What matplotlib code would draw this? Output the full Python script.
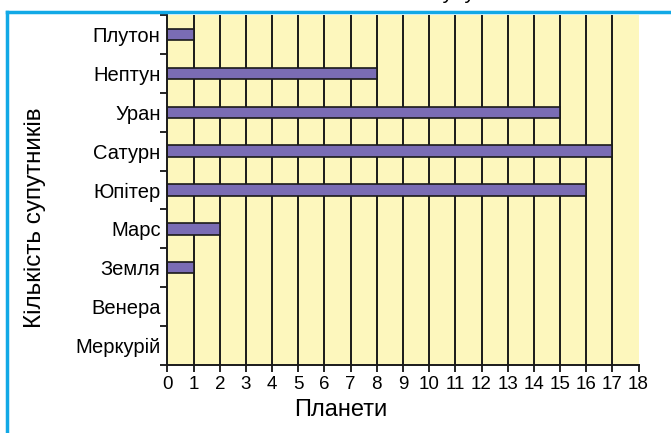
import matplotlib
matplotlib.use("Agg")
import matplotlib.pyplot as plt
from matplotlib.lines import Line2D

plt.rcParams["font.family"] = ["Liberation Sans", "DejaVu Sans"]

# planets from the inner one outwards, drawn bottom to top
planets = ["Меркурій", "Венера", "Земля", "Марс", "Юпітер",
           "Сатурн", "Уран", "Нептун", "Плутон"]
moons = [0, 0, 1, 2, 16, 17, 15, 8, 1]
x_ticks = list(range(0, 19))

BAR = "#7a6cb4"
BG = "#fdf7bd"
FRAME = "#12a9e6"

fig = plt.figure(figsize=(6.71, 4.33), dpi=100)
ax = fig.add_axes([0.2496, 0.157, 0.702, 0.8083])
ax.set_facecolor(BG)

# vertical grid lines at every whole number
for x in x_ticks[1:-1]:
    ax.axvline(x, color="#1a1a1a", lw=1.4, zorder=1)

pos = list(range(len(planets)))
ax.barh(pos, moons, height=0.29, color=BAR, edgecolor="#1a1a1a",
        linewidth=1.2, zorder=2)

ax.set_xlim(0, 18)
ax.set_ylim(-0.5, len(planets) - 0.5)
ax.set_xticks(x_ticks)
ax.set_xticklabels([str(v) for v in x_ticks], fontsize=13.5)

# planet names sit between the boundary ticks
ax.set_yticks([p - 0.5 for p in pos] + [len(planets) - 0.5])
ax.set_yticklabels([])
ax.set_yticks(pos, minor=True)
ax.set_yticklabels(planets, minor=True, fontsize=14.5)
ax.tick_params(axis="y", which="minor", length=0, pad=5)
ax.tick_params(axis="y", which="major", length=5, width=1.2)
ax.tick_params(axis="x", length=5, width=1.2, pad=3)

for s in ("top", "right"):
    ax.spines[s].set_visible(False)
for s in ("left", "bottom"):
    ax.spines[s].set_linewidth(1.4)
    ax.spines[s].set_color("#1a1a1a")

ax.set_xlabel("Планети", fontsize=17)
ax.xaxis.set_label_coords((341 - 167.5) / 471, -(410 - 365) / 350, transform=ax.transAxes)
ax.xaxis.label.set_va("center")
ax.set_ylabel("Кількість супутників", fontsize=17.5)
ax.yaxis.set_label_coords(-(167.5 - 35) / 471, 0.5 - (218 - 190) / 350, transform=ax.transAxes)
ax.yaxis.label.set_va("center")

# cyan frame around the panel
fig.add_artist(Line2D([7 / 671, 1], [1 - 12 / 433, 1 - 12 / 433],
                      transform=fig.transFigure, color=FRAME, lw=2.5))
fig.add_artist(Line2D([7 / 671, 7 / 671], [0, 1 - 12 / 433],
                      transform=fig.transFigure, color=FRAME, lw=2.5))

# heading above the panel
fig.text(0.51, 1.0 + 1 / 433, "Кількість супутників планет",
         fontsize=15, ha="left", va="baseline")

fig.savefig("out.png", dpi=100)
